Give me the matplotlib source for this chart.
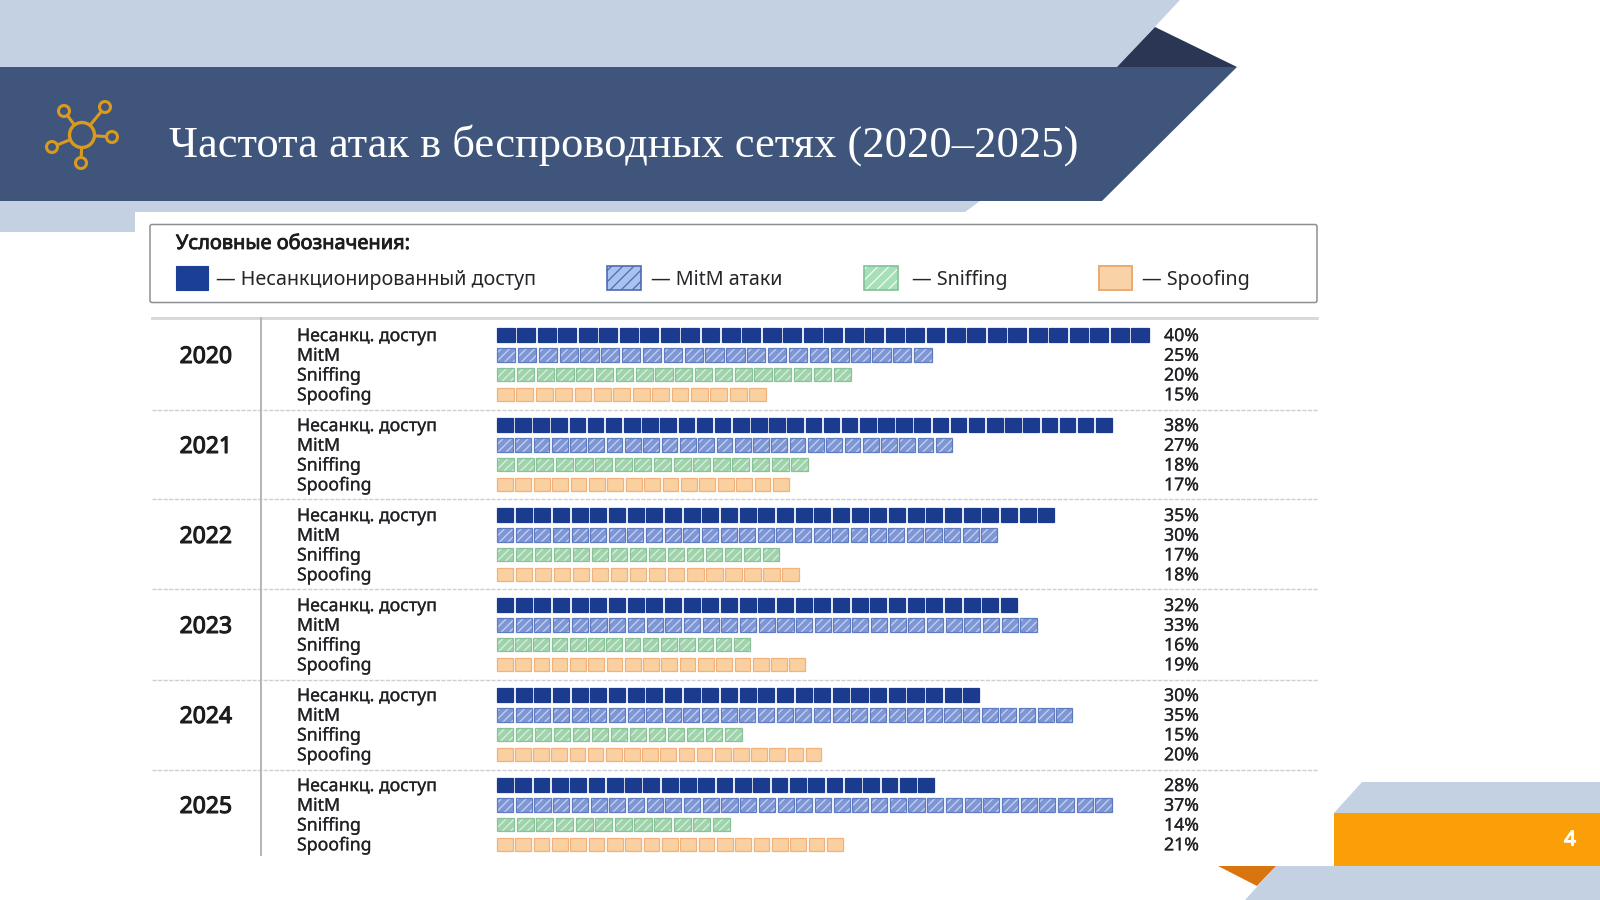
import numpy as np
import matplotlib
matplotlib.use("Agg")
import matplotlib.pyplot as plt
import matplotlib.patheffects as pe
from matplotlib.patches import Polygon, Rectangle, Circle, FancyBboxPatch

plt.rcParams['font.family'] = ['Noto Sans', 'DejaVu Sans']
plt.rcParams['hatch.linewidth'] = 0.9

years = ['2020', '2021', '2022', '2023', '2024', '2025']
row_labels = ['Несанкц. доступ', 'MitM', 'Sniffing', 'Spoofing']

# printed percentages
unauth_pct = [40, 38, 35, 32, 30, 28]
mitm_pct = [25, 27, 30, 33, 35, 37]
sniff_pct = [20, 18, 17, 16, 15, 14]
spoof_pct = [15, 17, 18, 19, 20, 21]

# bars in the picture are not quite proportional to the printed numbers,
# so the drawn lengths are read off separately (same axis units)
unauth_len = [40.0, 37.7, 34.2, 31.9, 29.6, 26.8]
mitm_len = [26.7, 27.9, 30.7, 33.1, 35.3, 37.7]
sniff_len = [21.7, 19.1, 17.3, 15.5, 15.0, 14.3]
spoof_len = [16.5, 17.9, 18.5, 18.9, 19.9, 21.2]

# number of small blocks per bar
unauth_blocks = [32, 34, 30, 28, 26, 24]
mitm_blocks = [21, 25, 27, 29, 31, 33]
sniff_blocks = [18, 16, 15, 14, 13, 12]
spoof_blocks = [14, 16, 16, 17, 18, 19]

legend_labels = ['— Несанкционированный доступ', '— MitM атаки', '— Sniffing', '— Spoofing']

PX_PER_UNIT = 16.3
PX_PER_YEAR = 90.0
ROW_STEP = 0.2195
TEXT_SHIFT = 0.012
LIGHT = '#c3d1e3'


def bolder(color, width=0.55):
    # Noto Sans has no bold face here, thicken the outline a bit
    return [pe.withStroke(linewidth=width, foreground=color)]


fig = plt.figure(figsize=(16, 9), dpi=100, facecolor='white')

# background axes in pixels for the slide decoration
bg = fig.add_axes([0, 0, 1, 1], zorder=1)
bg.set_xlim(0, 1600)
bg.set_ylim(900, 0)
bg.axis('off')

bg.add_patch(Polygon([(0, 0), (1180, 0), (1117, 67), (0, 67)], fc=LIGHT, lw=0))
bg.add_patch(Polygon([(1117, 67), (1155, 27), (1237, 67)], fc='#2a3653', lw=0))
bg.add_patch(Polygon([(0, 67), (1237, 67), (1102, 201), (0, 201)], fc='#40557c', lw=0))
bg.add_patch(Polygon([(0, 201), (980, 201), (965, 212), (135, 212), (135, 232), (0, 232)], fc=LIGHT, lw=0))

bg.add_patch(Polygon([(1334, 813), (1362, 782), (1600, 782), (1600, 813)], fc=LIGHT, lw=0))
bg.add_patch(Rectangle((1334, 813), 266, 53, fc='#fa9f08', lw=0))
bg.add_patch(Polygon([(1276, 866), (1600, 866), (1600, 900), (1245, 900)], fc=LIGHT, lw=0))
bg.add_patch(Polygon([(1218, 866), (1276, 866), (1257, 886)], fc='#d8750f', lw=0))
bg.text(1570, 840, '4', color='white', fontsize=15, ha='center', va='center',
        path_effects=bolder('white', 0.8))

# network icon
icon = '#d99a1e'
hub = (82, 135)
nodes = [(64, 111), (105, 107), (112, 137), (52, 147), (81, 163)]
for nx, ny in nodes:
    bg.plot([hub[0], nx], [hub[1], ny], color=icon, lw=2.2, solid_capstyle='round')
    bg.add_patch(Circle((nx, ny), 5.5, fc='#40557c', ec=icon, lw=2.2, zorder=3))
bg.add_patch(Circle(hub, 12.5, fc='#40557c', ec=icon, lw=2.4, zorder=3))

bg.text(169, 145, 'Частота атак в беспроводных сетях (2020–2025)', color='white',
        fontsize=32, family='Liberation Serif', ha='left', va='center')

# legend box
bg.add_patch(FancyBboxPatch((150, 224.5), 1167, 78, boxstyle='round,pad=0,rounding_size=2',
                            fc='white', ec='#8c8f94', lw=1.1))
bg.text(176, 244, 'Условные обозначения:', fontsize=14.4, color='#1d1d1f',
        ha='left', va='center', path_effects=bolder('#1d1d1f', 0.6))
bg.add_patch(Rectangle((176, 266), 32, 24, fc='#1c3f96', ec='#1c3f96', lw=0.8))
bg.add_patch(Rectangle((607, 266), 34, 24, fc='#a9c2f0', ec='#4f6bb0', hatch='///', lw=0))
bg.add_patch(Rectangle((607, 266), 34, 24, fill=False, ec='#4f6bb0', lw=1.2))
bg.add_patch(Rectangle((864, 266), 34, 24, fc='#a7dfb8', ec='#f2fbf5', hatch='///', lw=0))
bg.add_patch(Rectangle((864, 266), 34, 24, fill=False, ec='#7fc297', lw=1.2))
bg.add_patch(Rectangle((1099, 266), 33, 24, fc='#f9d3a7', ec='#e9ab70', lw=1.4))
for lx, lab in zip([216, 651, 912, 1142], legend_labels):
    bg.text(lx, 280, lab, fontsize=14.2, color='#26262a', ha='left', va='center')

# table rules
bg.plot([152, 1317], [318, 318], color='#d6d6d8', lw=2)
for sy in [409.5, 499, 589, 680, 770]:
    bg.plot([152, 1317], [sy, sy], color='#cfcfd2', lw=1, ls=(0, (3, 1)))
bg.plot([261, 261], [318, 855], color='#b4b4b6', lw=1.4)

# bars axes: x is the percent scale, y is the year index
ax = fig.add_axes([0, 0, 1, 1], zorder=2)
ax.patch.set_alpha(0)
ax.set_xlim(-497 / PX_PER_UNIT, (1600 - 497) / PX_PER_UNIT)
ax.set_ylim((900 - 335) / PX_PER_YEAR, -335 / PX_PER_YEAR)
ax.axis('off')

series = [
    (unauth_pct, unauth_len, unauth_blocks, '#1b3b8e', None, '#1b3b8e', None),
    (mitm_pct, mitm_len, mitm_blocks, '#7f96d4', '#c4d2f3', '#5f7cc0', '////'),
    (sniff_pct, sniff_len, sniff_blocks, '#a0d3ac', '#d8f0de', '#89c29a', '////'),
    (spoof_pct, spoof_len, spoof_blocks, '#fbd0a0', None, '#efb27c', None),
]
gap = 2.6 / PX_PER_UNIT
bar_h = 13.5 / PX_PER_YEAR

for i, year in enumerate(years):
    ax.text((206 - 497) / PX_PER_UNIT, i + 0.232 + TEXT_SHIFT, year, fontsize=16.5,
            color='#1d1d1f', ha='center', va='center', path_effects=bolder('#1d1d1f', 0.8))
    for j, (pct, length, blocks, face, hatch_col, edge, hatch) in enumerate(series):
        y = i + j * ROW_STEP
        step = (length[i] + gap) / blocks[i]
        lefts = np.arange(blocks[i]) * step
        ax.barh([y] * blocks[i], [step - gap] * blocks[i], left=lefts, height=bar_h,
                color=face, edgecolor=hatch_col if hatch else face, hatch=hatch, linewidth=0)
        ax.barh([y] * blocks[i], [step - gap] * blocks[i], left=lefts, height=bar_h,
                fill=False, edgecolor=edge, linewidth=0.9)
        ax.text((297 - 497) / PX_PER_UNIT, y + TEXT_SHIFT, row_labels[j], fontsize=12.75,
                color='#222226', ha='left', va='center', path_effects=bolder('#222226', 0.18))
        ax.text((1164 - 497) / PX_PER_UNIT, y + TEXT_SHIFT, f'{pct[i]}%', fontsize=12.75,
                color='#222226', ha='left', va='center', path_effects=bolder('#222226', 0.18))

fig.savefig('out.png', dpi=100)
